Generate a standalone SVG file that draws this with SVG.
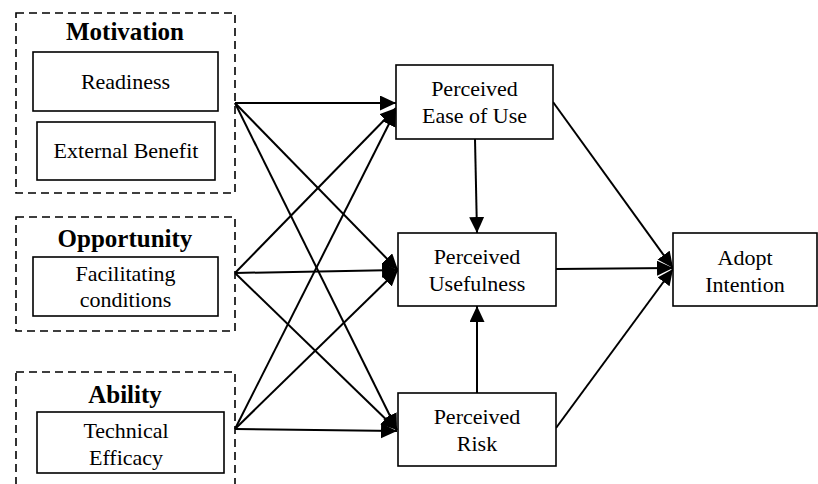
<svg xmlns="http://www.w3.org/2000/svg" width="818" height="484" viewBox="0 0 818 484">
<defs>
<style>
.grp{fill:none;stroke:#000;stroke-width:1.6;stroke-dasharray:8 5}
.box{fill:#fff;stroke:#000;stroke-width:1.6}
.t{font-family:'Liberation Serif','DejaVu Serif',serif;font-size:22px;text-anchor:middle;fill:#000}
.h{font-family:'Liberation Serif','DejaVu Serif',serif;font-size:25px;font-weight:bold;text-anchor:middle;fill:#000}
.c{fill:none;stroke:#000;stroke-width:2}
</style>
<marker id="ah" markerUnits="userSpaceOnUse" markerWidth="18" markerHeight="16" refX="16" refY="7.5" orient="auto">
<path d="M0,0 L16,7.5 L0,15 z" fill="#000"/>
</marker>
</defs>
<rect width="818" height="484" fill="#fff"/>
<g id="motivation">
<rect class="grp" x="16" y="13" width="219" height="180"/>
<text class="h" x="125" y="40" font-family="Liberation Serif, serif">Motivation</text>
</g>
<g id="readiness">
<rect class="box" x="33" y="52" width="185" height="59"/>
<text class="t" x="125.5" y="89" font-family="Liberation Serif, serif">Readiness</text>
</g>
<g id="external-benefit">
<rect class="box" x="37" y="122" width="178" height="58"/>
<text class="t" x="126" y="158" font-family="Liberation Serif, serif">External Benefit</text>
</g>
<g id="opportunity">
<rect class="grp" x="16" y="217" width="219" height="114"/>
<text class="h" x="125" y="247" font-family="Liberation Serif, serif">Opportunity</text>
</g>
<g id="facilitating-conditions">
<rect class="box" x="33" y="257" width="185" height="59"/>
<text class="t" x="125.5" y="281" font-family="Liberation Serif, serif">Facilitating</text>
<text class="t" x="125.5" y="307" font-family="Liberation Serif, serif">conditions</text>
</g>
<g id="ability">
<rect class="grp" x="16" y="372" width="219" height="130"/>
<text class="h" x="125" y="403" font-family="Liberation Serif, serif">Ability</text>
</g>
<g id="technical-efficacy">
<rect class="box" x="37" y="412" width="187" height="61"/>
<text class="t" x="126" y="438" font-family="Liberation Serif, serif">Technical</text>
<text class="t" x="126" y="465" font-family="Liberation Serif, serif">Efficacy</text>
</g>
<g id="connectors">
<line class="c" x1="235" y1="103" x2="396" y2="103" marker-end="url(#ah)"/>
<line class="c" x1="235" y1="103" x2="398" y2="270" marker-end="url(#ah)"/>
<line class="c" x1="235" y1="103" x2="397" y2="430" marker-end="url(#ah)"/>
<line class="c" x1="235" y1="273" x2="396" y2="108" marker-end="url(#ah)"/>
<line class="c" x1="235" y1="273" x2="398" y2="270" marker-end="url(#ah)"/>
<line class="c" x1="235" y1="273" x2="397" y2="430" marker-end="url(#ah)"/>
<line class="c" x1="235" y1="429" x2="396" y2="110" marker-end="url(#ah)"/>
<line class="c" x1="235" y1="429" x2="398" y2="270" marker-end="url(#ah)"/>
<line class="c" x1="235" y1="429" x2="397" y2="431" marker-end="url(#ah)"/>
<line class="c" x1="475" y1="139" x2="477" y2="233" marker-end="url(#ah)"/>
<line class="c" x1="477" y1="393" x2="477" y2="306" marker-end="url(#ah)"/>
<line class="c" x1="553" y1="102" x2="673" y2="268" marker-end="url(#ah)"/>
<line class="c" x1="556" y1="269" x2="673" y2="268" marker-end="url(#ah)"/>
<line class="c" x1="556" y1="428" x2="673" y2="269" marker-end="url(#ah)"/>
</g>
<g id="perceived-ease-of-use">
<rect class="box" x="396" y="65" width="157" height="74"/>
<text class="t" x="474.5" y="96" font-family="Liberation Serif, serif">Perceived</text>
<text class="t" x="474.5" y="123" font-family="Liberation Serif, serif">Ease of Use</text>
</g>
<g id="perceived-usefulness">
<rect class="box" x="398" y="233" width="158" height="73"/>
<text class="t" x="477" y="264" font-family="Liberation Serif, serif">Perceived</text>
<text class="t" x="477" y="291" font-family="Liberation Serif, serif">Usefulness</text>
</g>
<g id="perceived-risk">
<rect class="box" x="398" y="393" width="158" height="73"/>
<text class="t" x="477" y="424" font-family="Liberation Serif, serif">Perceived</text>
<text class="t" x="477" y="451" font-family="Liberation Serif, serif">Risk</text>
</g>
<g id="adopt-intention">
<rect class="box" x="673" y="233" width="144" height="73"/>
<text class="t" x="745" y="265" font-family="Liberation Serif, serif">Adopt</text>
<text class="t" x="745" y="292" font-family="Liberation Serif, serif">Intention</text>
</g>
</svg>
